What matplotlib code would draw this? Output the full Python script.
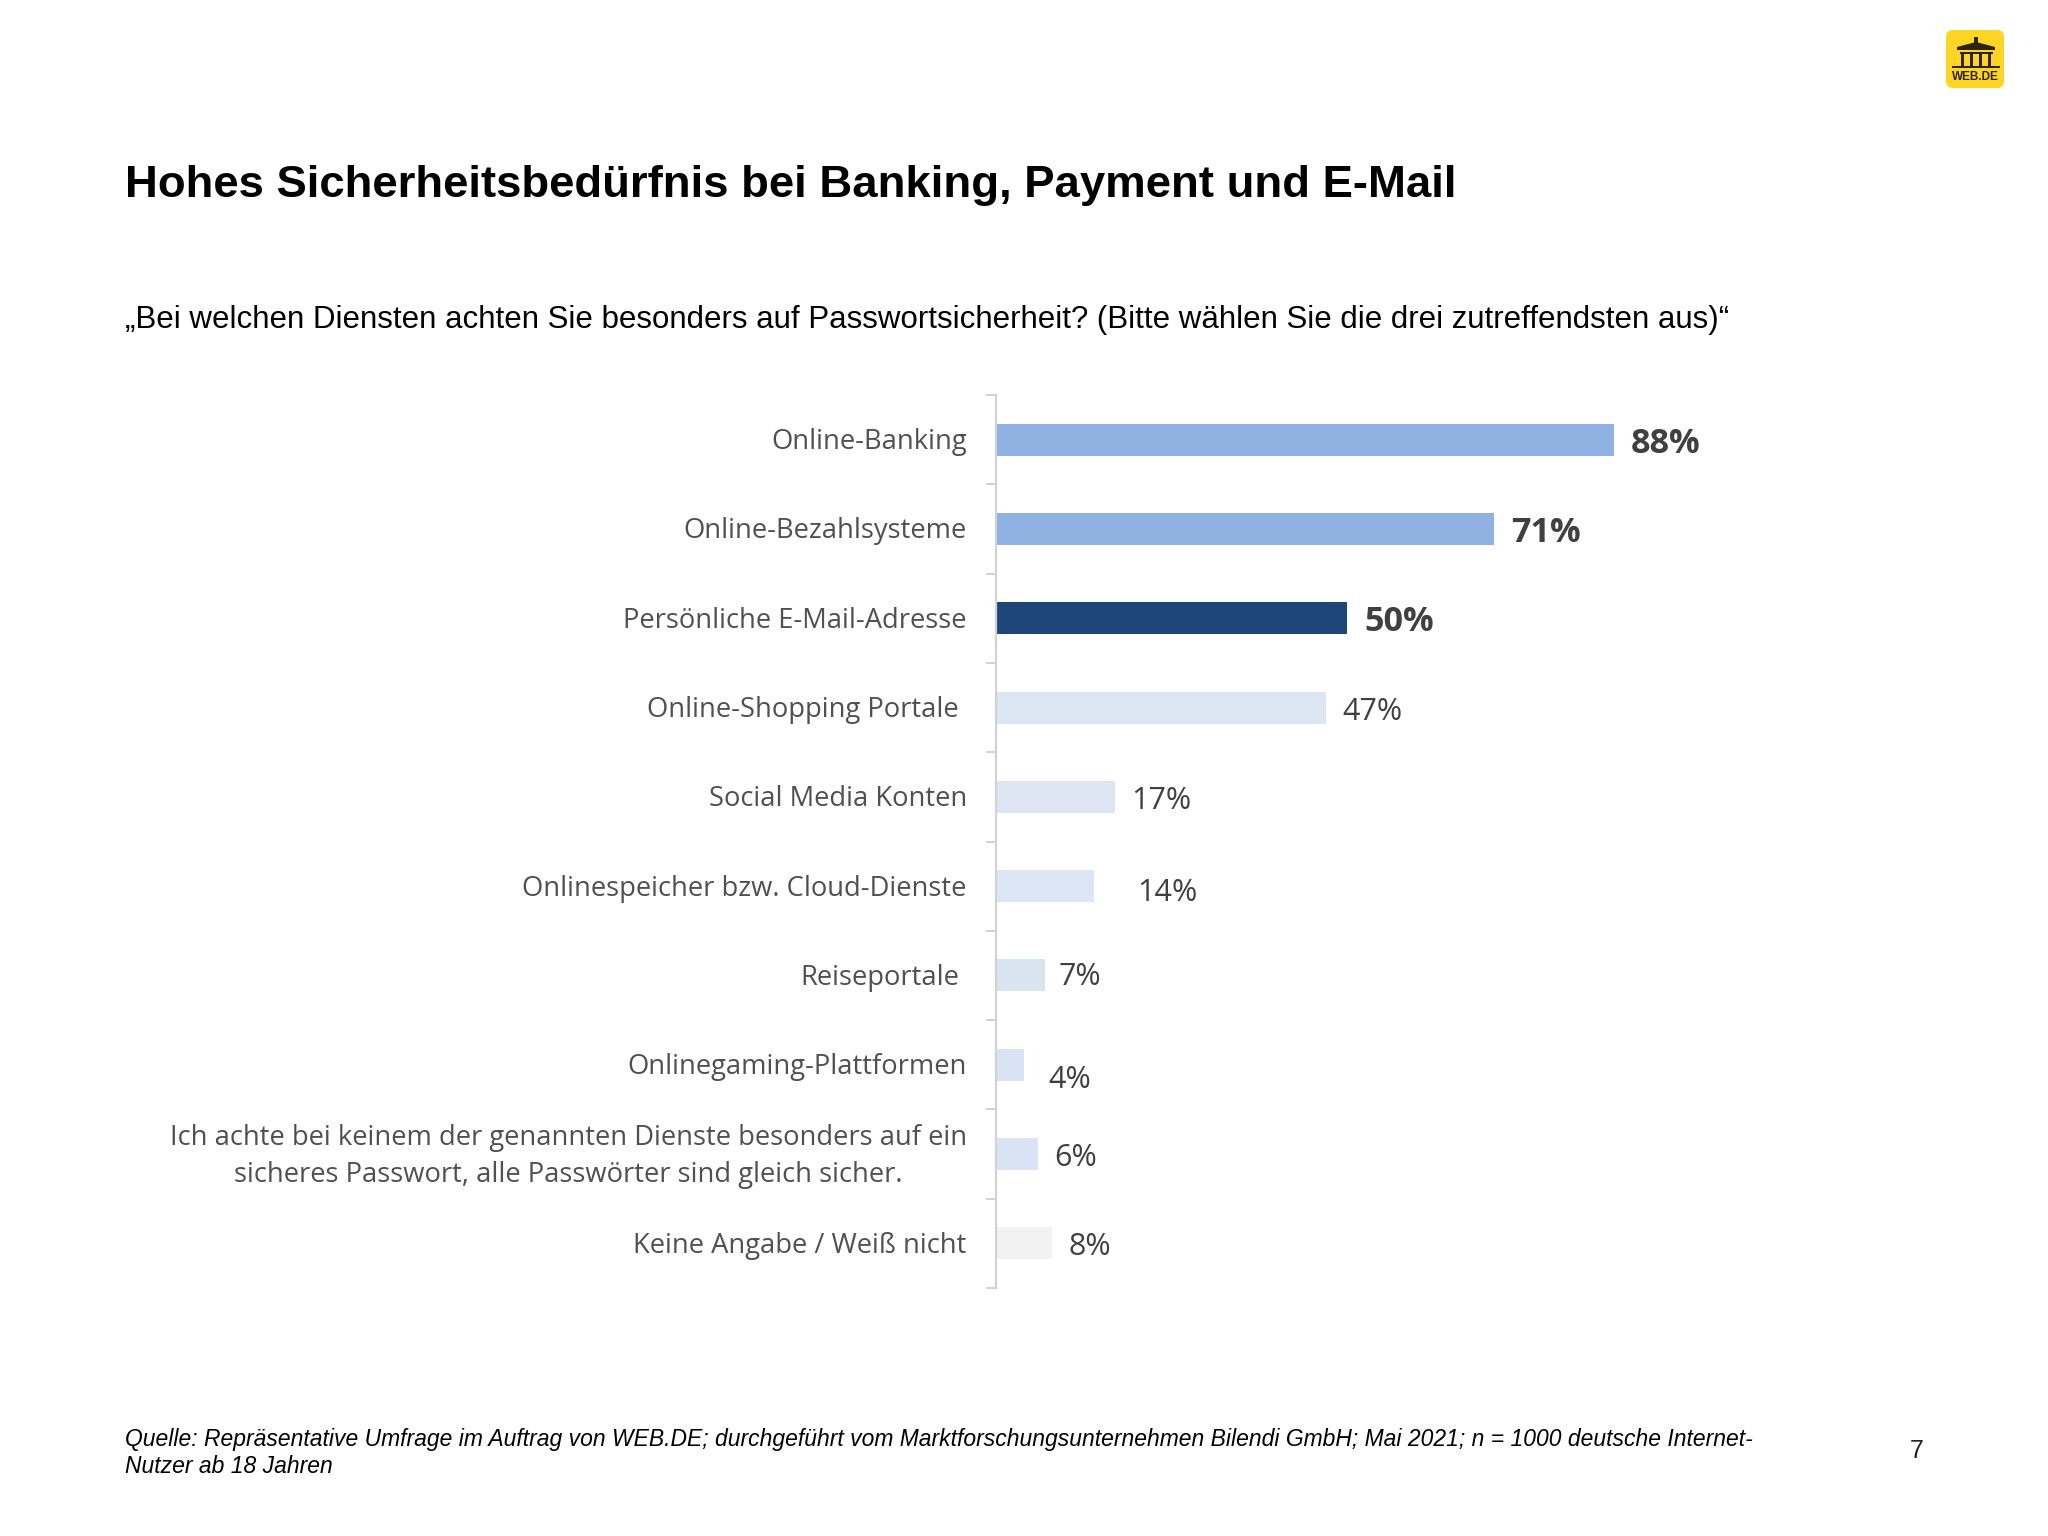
import matplotlib
matplotlib.use("Agg")
import matplotlib.pyplot as plt
import matplotlib.transforms as mtrans
from matplotlib.patches import FancyBboxPatch, Rectangle, Polygon

categories = ["Online-Banking", "Online-Bezahlsysteme", "Persönliche E-Mail-Adresse",
              "Online-Shopping Portale", "Social Media Konten",
              "Onlinespeicher bzw. Cloud-Dienste", "Reiseportale",
              "Onlinegaming-Plattformen",
              "Ich achte bei keinem der genannten Dienste besonders auf ein\nsicheres Passwort, alle Passwörter sind gleich sicher.",
              "Keine Angabe / Weiß nicht"]
values = [88, 71, 50, 47, 17, 14, 7, 4, 6, 8]
bar_colors = ["#8FB2E2", "#8FB2E2", "#1F4679", "#DCE6F2", "#DDE5F3",
              "#DDE6F4", "#DAE4F0", "#DAE3F3", "#DAE3F3", "#F2F2F2"]
bold_flags = [True, True, True, False, False, False, False, False, False, False]
label_dx = [17, 17, 17, 16, 16, 43, 13, 24, 16, 16]
label_dy = [4, 4, 4, 4, 4, 7, 2, 15, 4, 4]
cat_dx = [0, 0, 0, -8, 0, 0, -8, 0, 0, 0]
cat_dy = [1, 1, 1, 1, 1, 1, 1, 1, 6, 1]

W, H = 2048, 1536
fig = plt.figure(figsize=(W / 100, H / 100), dpi=100, facecolor="white")

SANS = "Liberation Sans"
fig.text(125 / W, 1 - 186 / H, "Hohes Sicherheitsbedürfnis bei Banking, Payment und E-Mail",
         family=SANS, weight="bold", fontsize=32.75, color="black", va="center")
fig.text(125 / W, 1 - 320 / H,
         "„Bei welchen Diensten achten Sie besonders auf Passwortsicherheit? (Bitte wählen Sie die drei zutreffendsten aus)“",
         family=SANS, fontsize=22.5, color="black", va="center")
fig.text(125 / W, 1 - 1453 / H,
         "Quelle: Repräsentative Umfrage im Auftrag von WEB.DE; durchgeführt vom Marktforschungsunternehmen Bilendi GmbH; Mai 2021; n = 1000 deutsche Internet-\nNutzer ab 18 Jahren",
         family=SANS, style="italic", fontsize=16.5, color="black", va="center", linespacing=1.27)
fig.text(1917 / W, 1 - 1451 / H, "7", family=SANS, fontsize=18, color="#222222", ha="center", va="center")

# chart
ax = fig.add_axes([996 / W, 1 - 1288 / H, 704 / W, 893 / H])
ypos = [i + 0.5 for i in range(len(values))]
bars = ax.barh(ypos, values, height=32 / 89.3, color=bar_colors, linewidth=0, zorder=2)
ax.set_xlim(0, 704 / 7.02)
ax.set_ylim(len(values), 0)
ax.patch.set_alpha(0)
for s in ("top", "right", "bottom"):
    ax.spines[s].set_visible(False)
ax.spines["left"].set_color("#D2D2D2")
ax.spines["left"].set_linewidth(1.6)
ax.set_xticks([])
ax.set_yticks(range(len(values) + 1), minor=True)
ax.tick_params(axis="y", which="minor", length=7, width=1.4, color="#D2D2D2")
ax.set_yticks(ypos)
ax.set_yticklabels(categories, family="Open Sans", fontsize=19.7, color="#505050",
                   multialignment="center", linespacing=1.45)
ax.tick_params(axis="y", which="major", length=0, pad=21)
for lab, dx, dy in zip(ax.get_yticklabels(), cat_dx, cat_dy):
    lab.set_transform(lab.get_transform() + mtrans.Affine2D().translate(dx, dy))

for y, v, b, dx, dy in zip(ypos, values, bold_flags, label_dx, label_dy):
    ax.annotate(f"{v}%", (v, y), xytext=(dx, -dy), textcoords="offset pixels",
                family="Open Sans", fontsize=24.6 if b else 22,
                weight="bold" if b else "normal", color="#404040", ha="left", va="center")

# logo
lg = fig.add_axes([0, 0, 1, 1])
lg.set_xlim(0, W)
lg.set_ylim(H, 0)
lg.axis("off")
lg.patch.set_alpha(0)
lg.add_patch(FancyBboxPatch((1952, 36), 46, 46, boxstyle="round,pad=6,rounding_size=7",
                            fc="#FDD522", ec="none"))
dark = "#2B2410"
lg.add_patch(Polygon([[1957, 47], [1976, 42], [1995, 47], [1995, 50], [1957, 50]], fc=dark, ec="none"))
lg.add_patch(Rectangle((1973.5, 37), 4, 6, fc=dark, ec="none"))
lg.add_patch(Rectangle((1960, 52), 33, 1.8, fc=dark, ec="none"))
for cx in (1961, 1970, 1979, 1988):
    lg.add_patch(Rectangle((cx, 53), 3.2, 13, fc=dark, ec="none"))
lg.add_patch(Rectangle((1952, 65.5), 48, 2, fc=dark, ec="none"))
lg.text(1975.5, 77, "WEB.DE", family=SANS, weight="bold", fontsize=8.5, color=dark,
        ha="center", va="center")

fig.savefig("out.png", dpi=100, facecolor="white")
